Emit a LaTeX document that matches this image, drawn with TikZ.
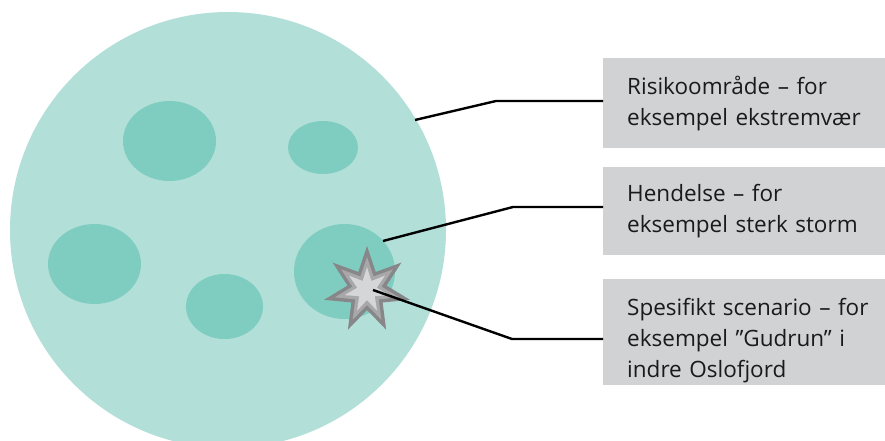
\documentclass[tikz,border=0pt]{standalone}
\usepackage{fontspec}
\setmainfont{Open Sans}
\usetikzlibrary{shapes.geometric}
\definecolor{bigc}{HTML}{B2DFD8}
\definecolor{smallc}{HTML}{7FCDC0}
\definecolor{boxc}{HTML}{D1D2D4}
\definecolor{stara}{HTML}{87878A}
\definecolor{starb}{HTML}{A8A8AB}
\definecolor{starc}{HTML}{D5D6D8}
\definecolor{txt}{HTML}{1A1A1A}
\begin{document}
\begin{tikzpicture}[x=1pt,y=-1pt,
  blob/.style={fill=smallc,draw=none},
  infobox/.style={fill=boxc,draw=none,anchor=north west,
    text width=258pt,inner xsep=24pt,inner ysep=0pt,align=left,text=txt,
    font=\fontsize{22.5}{31}\selectfont},
  conn/.style={draw=black,line width=2.4pt},
  starshape/.style={star,star points=7,draw=none,shape border rotate=0}]
\useasboundingbox (0,0) rectangle (885,441);
\begin{scope}
\clip (0,0) rectangle (885,441);
\fill[bigc] (228,230) circle[radius=218];
\end{scope}
\fill[blob] (169.5,141) ellipse[x radius=46.5,y radius=40];
\fill[blob] (323,147.5) ellipse[x radius=35,y radius=26.5];
\fill[blob] (94.5,264) ellipse[x radius=46.5,y radius=40];
\fill[blob] (224.5,306.5) ellipse[x radius=38.5,y radius=32.5];
\fill[blob] (344.5,271.5) ellipse[x radius=50.5,y radius=47.5];
% star
\node[starshape,fill=stara,star point height=24pt,minimum size=88pt,inner sep=0pt] (s1) at (367,290) {};
\node[starshape,fill=starb,star point height=18pt,minimum size=66pt,inner sep=0pt] (s2) at (367,290) {};
\node[starshape,fill=starc,star point height=13pt,minimum size=46pt,inner sep=0pt] (s3) at (367,290) {};
\coordinate (p1) at (415,120);
\coordinate (p2) at (383,241);
\coordinate (p3) at (373,290);
% boxes
\node[infobox,minimum height=90pt] (b1) at (603,58) {Risikoområde – for\\eksempel ekstremvær};
\node[infobox,minimum height=88pt] (b2) at (603,167) {Hendelse – for\\eksempel sterk storm};
\node[infobox,minimum height=106pt] (b3) at (603,279) {\mbox{}\\[3pt]Spesifikt scenario – for\\eksempel ”Gudrun” i\\indre Oslofjord};
\draw[conn] (p1) -- (496,101) -- (b1.west |- 0,101);
\draw[conn] (p2) -- (513,207) -- (b2.west |- 0,207);
\draw[conn] (p3) -- (512,339) -- (b3.west |- 0,339);
\end{tikzpicture}
\end{document}
